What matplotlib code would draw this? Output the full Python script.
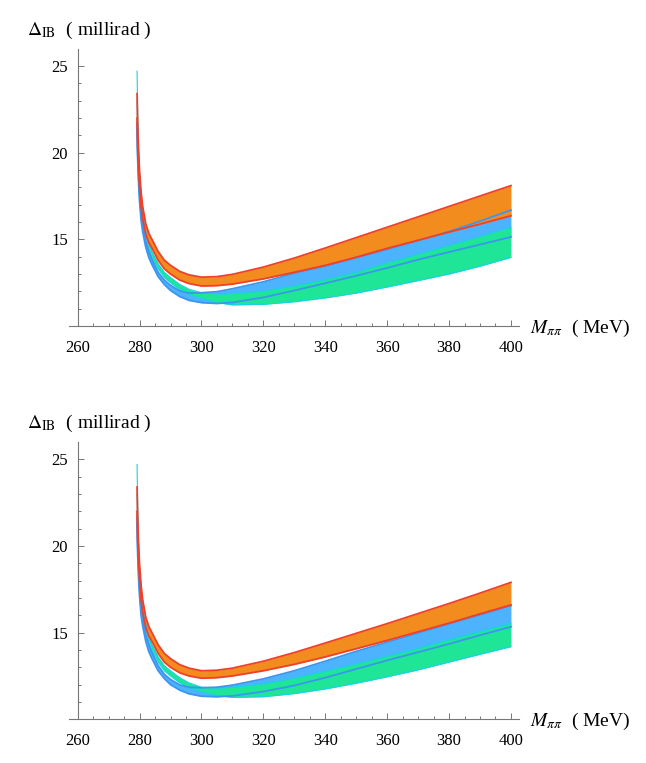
import matplotlib
matplotlib.use("Agg")
import matplotlib.pyplot as plt
from matplotlib.ticker import MultipleLocator, FixedLocator

plt.rcParams['font.family'] = ['Liberation Serif', 'DejaVu Serif']
plt.rcParams['mathtext.fontset'] = 'stix'

# sample masses (MeV)
mass = [279.2, 279.4, 279.7, 280, 280.5, 281, 282, 283, 284, 286, 288, 290, 293, 296,
        300, 305, 310, 320, 330, 340, 350, 360, 370, 380, 390, 400]

# ---- top panel ----
top_orange_hi = [23.4, 21.5, 20.0, 18.9, 17.7, 16.9, 15.9, 15.35, 15.0, 14.3, 13.8, 13.5, 13.15, 12.95,
                 12.82, 12.85, 12.98, 13.4, 13.92, 14.5, 15.1, 15.7, 16.3, 16.9, 17.5, 18.1]
top_orange_lo = [22.0, 20.3, 19.0, 18.0, 16.9, 16.2, 15.3, 14.8, 14.5, 13.8, 13.3, 13.0, 12.65, 12.45,
                 12.31, 12.33, 12.42, 12.72, 13.1, 13.5, 13.97, 14.48, 14.95, 15.42, 15.88, 16.36]
top_blue_hi = [21.7, 20.0, 18.6, 17.6, 16.5, 15.8, 14.9, 14.3, 13.85, 13.1, 12.65, 12.35, 12.02, 11.9,
               11.92, 11.98, 12.15, 12.55, 13.05, 13.45, 13.93, 14.42, 14.92, 15.45, 16.05, 16.69]
top_blue_lo = [21.4, 19.6, 18.2, 17.2, 16.1, 15.45, 14.55, 13.95, 13.55, 12.85, 12.4, 12.05, 11.7, 11.48,
               11.35, 11.3, 11.36, 11.65, 12.05, 12.47, 12.9, 13.35, 13.83, 14.27, 14.7, 15.14]
top_green_hi = [24.7, 22.0, 20.0, 18.8, 17.4, 16.6, 15.5, 14.8, 14.3, 13.6, 13.1, 12.8, 12.4, 12.12,
                11.92, 11.85, 11.87, 12.02, 12.32, 12.68, 13.1, 13.65, 14.15, 14.65, 15.17, 15.70]
top_green_lo = [23.0, 20.8, 19.2, 18.2, 16.9, 16.1, 15.2, 14.5, 14.0, 13.3, 12.8, 12.5, 12.1, 11.83,
                11.6, 11.35, 11.22, 11.25, 11.4, 11.62, 11.9, 12.25, 12.62, 13.0, 13.45, 13.96]

# ---- bottom panel ----
bot_orange_hi = [23.4, 21.5, 20.0, 18.9, 17.7, 16.9, 15.9, 15.35, 15.0, 14.3, 13.8, 13.5, 13.15, 12.95,
                 12.8, 12.83, 12.95, 13.35, 13.85, 14.4, 14.96, 15.52, 16.1, 16.68, 17.28, 17.9]
bot_orange_lo = [22.0, 20.3, 19.0, 18.0, 16.9, 16.2, 15.3, 14.8, 14.5, 13.8, 13.3, 13.0, 12.68, 12.5,
                 12.37, 12.4, 12.5, 12.8, 13.17, 13.6, 14.07, 14.55, 15.05, 15.55, 16.08, 16.6]
bot_blue_hi = [21.7, 20.0, 18.6, 17.6, 16.5, 15.8, 14.9, 14.3, 13.85, 13.1, 12.6, 12.3, 11.98, 11.85,
               11.82, 11.85, 11.97, 12.33, 12.8, 13.35, 13.92, 14.45, 14.98, 15.5, 16.02, 16.55]
bot_blue_lo = [21.3, 19.5, 18.1, 17.1, 16.0, 15.4, 14.5, 13.9, 13.5, 12.8, 12.35, 12.0, 11.68, 11.47,
               11.33, 11.3, 11.35, 11.6, 11.95, 12.4, 12.9, 13.4, 13.87, 14.35, 14.85, 15.34]
bot_green_hi = [24.7, 22.0, 20.0, 18.8, 17.4, 16.6, 15.5, 14.8, 14.3, 13.6, 13.1, 12.8, 12.4, 12.1,
                11.85, 11.8, 11.85, 12.05, 12.38, 12.78, 13.2, 13.65, 14.1, 14.6, 15.07, 15.54]
bot_green_lo = [23.0, 20.8, 19.2, 18.2, 16.9, 16.1, 15.2, 14.5, 14.0, 13.3, 12.8, 12.5, 12.1, 11.83,
                11.6, 11.38, 11.26, 11.3, 11.48, 11.75, 12.08, 12.45, 12.85, 13.3, 13.75, 14.19]

x_ticks = [260, 280, 300, 320, 340, 360, 380, 400]
y_ticks = [15, 20, 25]

ORANGE = '#F28C1E'
RED = '#F0402A'
BLUE_F = '#4DB3FF'
BLUE_L = '#3A96F0'
GREEN_F = '#1EE696'
CYAN_L = '#19D2E6'
AXC = '#777777'

fig = plt.figure(figsize=(6.46, 7.63), dpi=100)


def panel(rect, o_hi, o_lo, b_hi, b_lo, g_hi, g_lo, ylab_y, xlab_y):
    ax = fig.add_axes(rect)
    ax.fill_between(mass, b_lo, b_hi, color=BLUE_F, lw=0, zorder=1)
    ax.fill_between(mass, g_lo, g_hi, color=GREEN_F, lw=0, zorder=2)
    ax.fill_between(mass, o_lo, o_hi, color=ORANGE, lw=0, zorder=3)
    ax.plot(mass, g_hi, color=CYAN_L, lw=0.8, zorder=4)
    ax.plot(mass, g_lo, color=CYAN_L, lw=0.8, zorder=4)
    ax.plot(mass, b_hi, color=BLUE_L, lw=1.3, zorder=5)
    ax.plot(mass, b_lo, color=BLUE_L, lw=1.3, zorder=5)
    ax.plot(mass, o_hi, color=RED, lw=1.3, zorder=6)
    ax.plot(mass, o_lo, color=RED, lw=1.3, zorder=6)
    ax.set_xlim(257.2, 402.6)
    ax.set_ylim(10, 26)
    for s in ('top', 'right'):
        ax.spines[s].set_visible(False)
    ax.spines['left'].set_position(('data', 260))
    for s in ('left', 'bottom'):
        ax.spines[s].set_color(AXC)
        ax.spines[s].set_linewidth(0.8)
    ax.xaxis.set_major_locator(FixedLocator(x_ticks))
    ax.xaxis.set_minor_locator(MultipleLocator(5))
    ax.yaxis.set_major_locator(FixedLocator(y_ticks))
    ax.yaxis.set_minor_locator(FixedLocator([v for v in range(11, 26) if v % 5 != 0]))
    ax.tick_params(which='both', direction='in', color=AXC, width=0.7, labelsize=12)
    ax.tick_params(which='major', length=4.5)
    ax.tick_params(which='minor', length=2.5)
    ax.tick_params(axis='x', which='major', pad=10)
    ax.tick_params(axis='y', which='major', pad=7)
    ax.patch.set_alpha(0)
    fig.text(27 / 646, 1 - ylab_y / 763, r'$\Delta_{\rm IB}$  ( millirad )', ha='left', va='center',
             fontsize=14)
    fig.text(530 / 646, 1 - xlab_y / 763, r'$M_{\pi\pi}$  ( MeV)', ha='left', va='center',
             fontsize=14)
    return ax


panel([0.1068, 0.5727, 0.6966, 0.3635], top_orange_hi, top_orange_lo, top_blue_hi, top_blue_lo,
      top_green_hi, top_green_lo, 30, 328)
panel([0.1068, 0.0573, 0.6966, 0.3634], bot_orange_hi, bot_orange_lo, bot_blue_hi, bot_blue_lo,
      bot_green_hi, bot_green_lo, 423, 721)

fig.savefig('out.png', dpi=100)
